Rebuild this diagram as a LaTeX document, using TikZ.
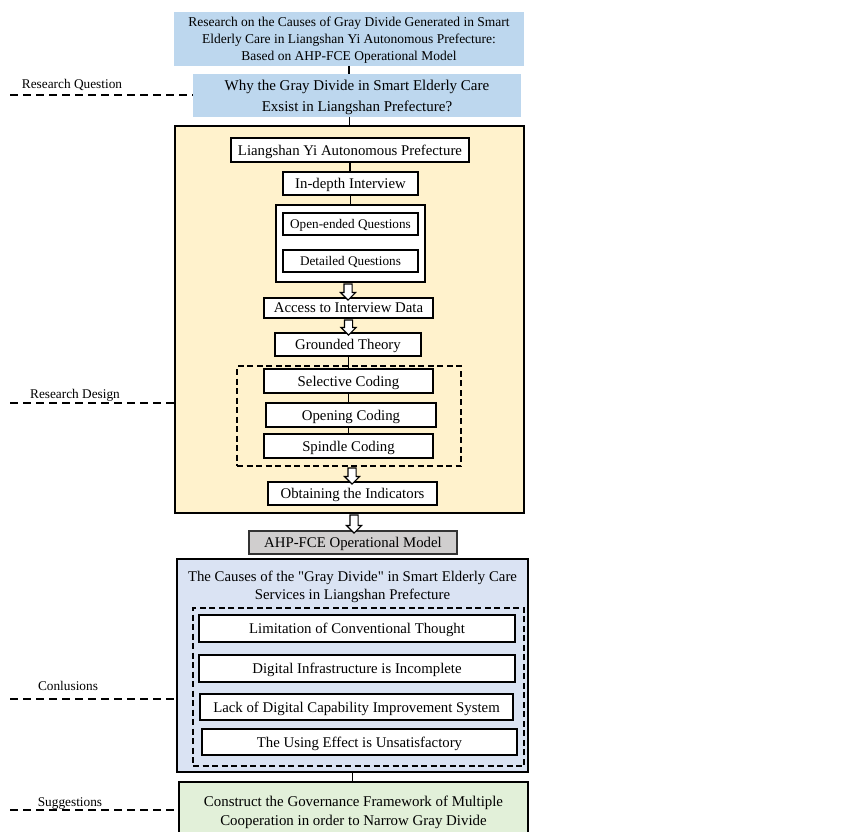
\documentclass[tikz,border=0pt]{standalone}
\usepackage{fontspec}
\setmainfont{Liberation Serif}[Ligatures=TeXOff]
\usetikzlibrary{shapes.arrows}

\definecolor{qblue}{HTML}{BDD7EE}
\definecolor{dyellow}{HTML}{FFF2CC}
\definecolor{cblue}{HTML}{DAE3F3}
\definecolor{sgreen}{HTML}{E2F0D9}
\definecolor{mgray}{HTML}{D0CECE}

\begin{document}
\begin{tikzpicture}[x=1pt,y=-1pt]
\tikzstyle{every node}=[inner sep=0pt,outer sep=0pt,align=center,text depth=0pt]
\tikzstyle{box}=[draw,fill=white,line width=1.2pt,font=\fontsize{14.8}{17}\selectfont]
\tikzstyle{small box}=[box,font=\fontsize{13.2}{16}\selectfont]
\tikzstyle{dbox}=[draw,line width=1.2pt,dash pattern=on 6pt off 3.5pt]
\tikzstyle{hollow}=[draw,fill=white,line width=1.1pt,shape=single arrow,rotate=-90,
  inner sep=3.5pt,single arrow head extend=3.5pt,minimum height=16pt]
\tikzstyle{lbl}=[font=\fontsize{13.3}{15}\selectfont]
\tikzstyle{lead}=[line width=1.2pt,dash pattern=on 8pt off 5pt]
\tikzstyle{link}=[line width=1.2pt]
\useasboundingbox (0,0) rectangle (851,832);

% header
\node[fill=qblue,minimum width=350pt,minimum height=54pt,font=\fontsize{13.5}{17}\selectfont]
  (title) at (349,39) {Research on the Causes of Gray Divide Generated in Smart\\
  Elderly Care in Liangshan Yi Autonomous Prefecture:\\ Based on AHP-FCE Operational Model};
\node[fill=qblue,minimum width=328pt,minimum height=43pt,font=\fontsize{15}{21}\selectfont]
  (quest) at (357,95.5) {Why the Gray Divide in Smart Elderly Care\\ Exsist in Liangshan Prefecture?};

% research design
\node[draw,fill=dyellow,line width=1.2pt,minimum width=349pt,minimum height=387pt]
  (design) at (349.5,319.5) {};
\node[box,minimum width=238pt,minimum height=24pt] (area) at (350,150) {Liangshan Yi Autonomous Prefecture};
\node[box,minimum width=135pt,minimum height=23pt] (interview) at (350.5,183.5) {In-depth Interview};
\node[box,minimum width=149pt,minimum height=77pt] (qgroup) at (350.5,243.5) {};
\node[small box,minimum width=135pt,minimum height=22pt] (open) at (350.5,224) {Open-ended Questions};
\node[small box,minimum width=135pt,minimum height=22pt] (detail) at (350.5,261) {Detailed Questions};
\node[box,minimum width=169pt,minimum height=20pt] (access) at (348.5,308) {Access to Interview Data};
\node[box,minimum width=146pt,minimum height=23pt] (grounded) at (348,344.5) {Grounded Theory};
\node[dbox,minimum width=224pt,minimum height=100pt] (coding) at (349,416) {};
\node[box,minimum width=169pt,minimum height=24pt] (selective) at (348.5,381) {Selective Coding};
\node[box,minimum width=170pt,minimum height=24pt] (opening) at (351,415) {Opening Coding};
\node[box,minimum width=169pt,minimum height=24pt] (spindle) at (348.5,446) {Spindle Coding};
\node[box,minimum width=169pt,minimum height=23pt] (indicators) at (352.5,493.5) {Obtaining the Indicators};

% model
\node[box,fill=mgray,draw=black!80,line width=1.5pt,minimum width=208pt,minimum height=23pt]
  (ahp) at (353,542.5) {AHP-FCE Operational Model};

% conclusions
\node[draw,fill=cblue,line width=1.2pt,minimum width=351pt,minimum height=213pt]
  (causes) at (352.5,665.5) {};
\node[font=\fontsize{14.8}{18}\selectfont] (ctitle) at (352.5,585)
  {The Causes of the "Gray Divide" in Smart Elderly Care\\ Services in Liangshan Prefecture};
\node[dbox,minimum width=331pt,minimum height=158pt] (factors) at (358.5,687) {};
\node[box,minimum width=316pt,minimum height=27pt] (limit) at (357,628.5) {Limitation of Conventional Thought};
\node[box,minimum width=316pt,minimum height=27pt] (infra) at (357,668.5) {Digital Infrastructure is Incomplete};
\node[box,minimum width=313pt,minimum height=26pt] (lack) at (356.5,707) {Lack of Digital Capability Improvement System};
\node[box,minimum width=315pt,minimum height=26pt] (effect) at (359.5,742) {The Using Effect is Unsatisfactory};

% suggestions
\node[draw,fill=sgreen,line width=1.2pt,minimum width=349pt,minimum height=54pt] (suggest) at (353.5,809) {};
\node[font=\fontsize{14.9}{19}\selectfont] (stext) at (353.5,811)
  {Construct the Governance Framework of Multiple\\ Cooperation in order to Narrow Gray Divide};

% connectors
\draw[link] (title.south) -- (title.south |- quest.north);
\draw[link] (quest.south -| design.north) -- (design.north);
\draw[link] (area.south) -- (area.south |- interview.north);
\draw[link] (interview.south) -- (qgroup.north);
\draw[link] (grounded.south -| selective.north) -- (selective.north);
\draw[link] (selective.south) -- (selective.south |- opening.north);
\draw[link] (selective.south |- opening.south) -- (selective.south |- spindle.north);
\draw[link] (ahp.south -| 355,0) -- (ahp.south -| 355,0 |- causes.north);
\draw[link] (causes.south) -- (causes.south |- suggest.north);
\path (qgroup.south -| 348,0) -- node[hollow] (a1) {} (access.north -| 348,0);
\path (access.south) -- node[hollow,minimum height=15pt] (a2) {} (access.south |- grounded.north);
\path (coding.south -| 352,0) -- node[hollow] (a3) {} (indicators.north -| 352,0);
\path (design.south -| 354,0) -- node[hollow,minimum height=18pt] (a4) {} (ahp.north -| 354,0);

% side labels
\node[lbl] (rq) at (72,84) {Research Question};
\coordinate (rqL) at (10,95);
\draw[lead] (rqL) -- (rqL -| quest.west);
\node[lbl] (rd) at (75,394) {Research Design};
\coordinate (rdL) at (10,403);
\draw[lead] (rdL) -- (rdL -| design.west);
\node[lbl] (cl) at (68,686) {Conlusions};
\coordinate (clL) at (10,699);
\draw[lead] (clL) -- (clL -| causes.west);
\node[lbl] (sg) at (70,802) {Suggestions};
\coordinate (sgL) at (10,810);
\draw[lead] (sgL) -- (sgL -| suggest.west);
\end{tikzpicture}
\end{document}
